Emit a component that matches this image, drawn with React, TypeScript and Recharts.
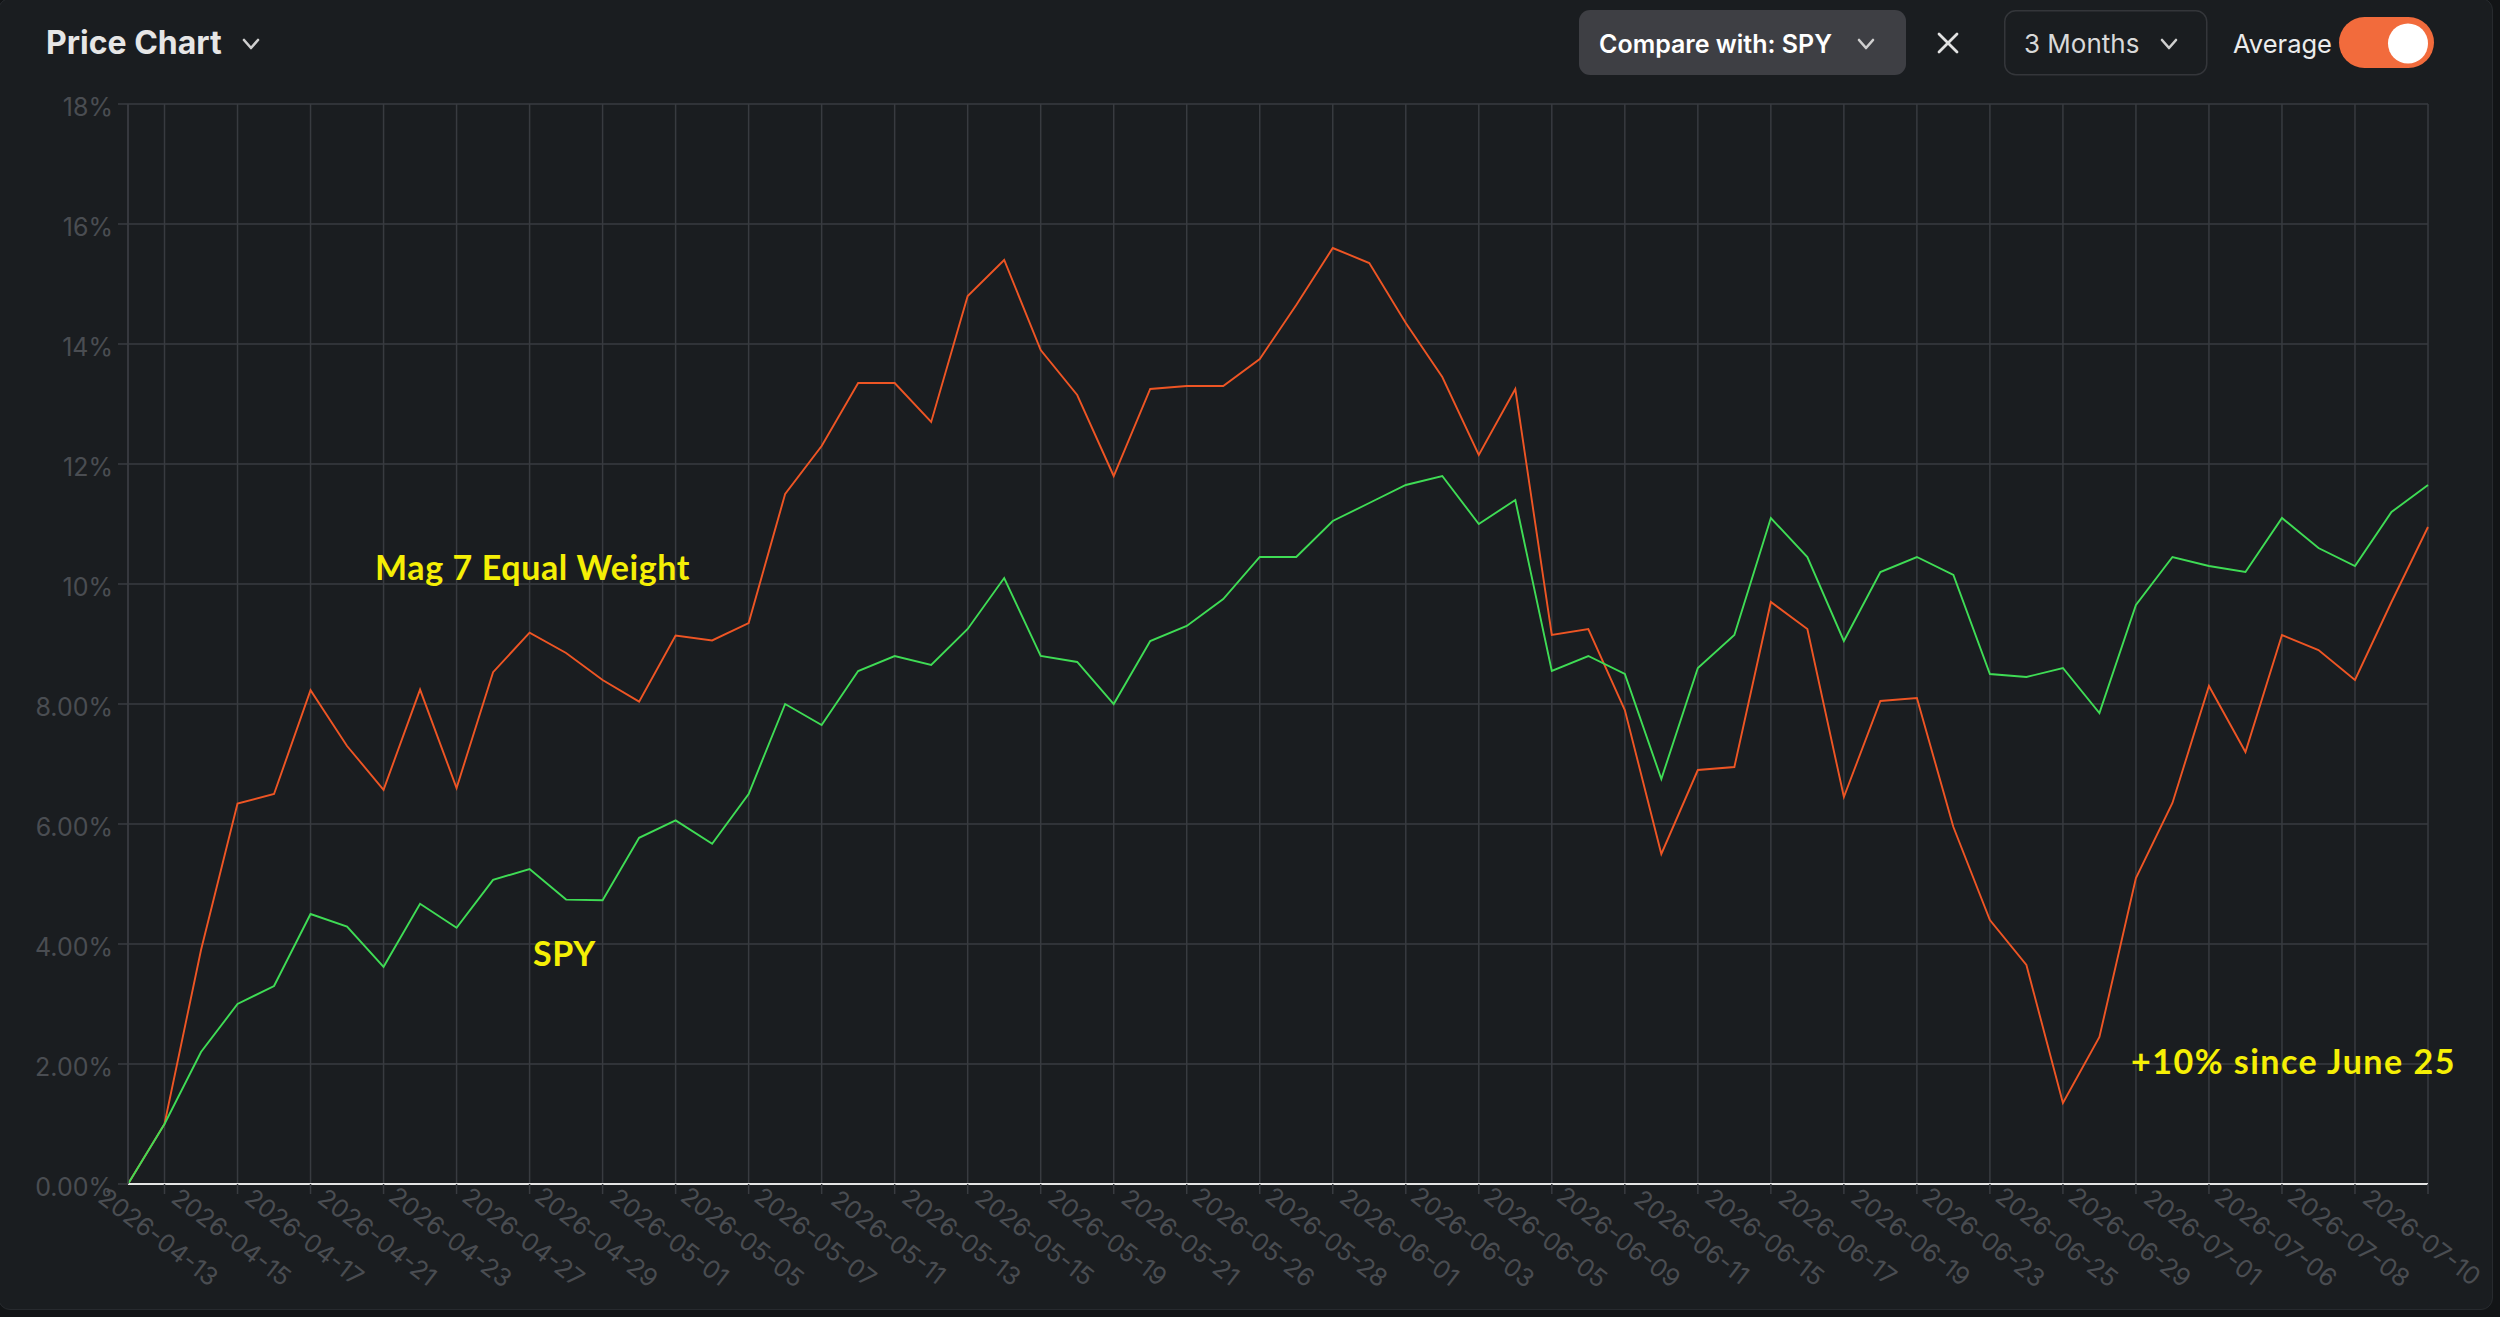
import { LineChart, Line, XAxis, YAxis, CartesianGrid } from 'recharts';

const dates = [
  '2026-04-10', '2026-04-13', '2026-04-14', '2026-04-15', '2026-04-16', '2026-04-17', '2026-04-20', '2026-04-21',
  '2026-04-22', '2026-04-23', '2026-04-24', '2026-04-27', '2026-04-28', '2026-04-29', '2026-04-30', '2026-05-01',
  '2026-05-04', '2026-05-05', '2026-05-06', '2026-05-07', '2026-05-08', '2026-05-11', '2026-05-12', '2026-05-13',
  '2026-05-14', '2026-05-15', '2026-05-18', '2026-05-19', '2026-05-20', '2026-05-21', '2026-05-22', '2026-05-26',
  '2026-05-27', '2026-05-28', '2026-05-29', '2026-06-01', '2026-06-02', '2026-06-03', '2026-06-04', '2026-06-05',
  '2026-06-08', '2026-06-09', '2026-06-10', '2026-06-11', '2026-06-12', '2026-06-15', '2026-06-16', '2026-06-17',
  '2026-06-18', '2026-06-19', '2026-06-22', '2026-06-23', '2026-06-24', '2026-06-25', '2026-06-26', '2026-06-29',
  '2026-06-30', '2026-07-01', '2026-07-02', '2026-07-06', '2026-07-07', '2026-07-08', '2026-07-09', '2026-07-10',
];

// Mag 7 equal weight, % change since start
const mag7 = [
  0, 1.0, 3.9, 6.34, 6.5, 8.23, 7.3, 6.57, 8.24, 6.6, 8.53, 9.19, 8.85, 8.4, 8.04, 9.14,
  9.06, 9.35, 11.5, 12.3, 13.35, 13.35, 12.7, 14.8, 15.4, 13.9, 13.15, 11.8, 13.25, 13.3, 13.3, 13.75,
  14.65, 15.6, 15.35, 14.35, 13.45, 12.15, 13.25, 9.15, 9.25, 7.9, 5.5, 6.9, 6.95, 9.7, 9.25, 6.45,
  8.05, 8.1, 5.95, 4.4, 3.65, 1.35, 2.45, 5.1, 6.35, 8.3, 7.2, 9.15, 8.9, 8.4, 9.7, 10.95,
];

// SPY, % change since start
const spy = [
  0, 1.0, 2.2, 3.0, 3.3, 4.5, 4.29, 3.62, 4.67, 4.27, 5.07, 5.25, 4.74, 4.73, 5.77, 6.06,
  5.67, 6.5, 8.0, 7.65, 8.55, 8.8, 8.65, 9.25, 10.1, 8.8, 8.7, 8.0, 9.05, 9.3, 9.75, 10.45,
  10.45, 11.05, 11.35, 11.65, 11.8, 11.0, 11.4, 8.55, 8.8, 8.5, 6.75, 8.6, 9.15, 11.1, 10.45, 9.05,
  10.2, 10.45, 10.15, 8.5, 8.45, 8.6, 7.85, 9.65, 10.45, 10.3, 10.2, 11.1, 10.6, 10.3, 11.2, 11.65,
];

const xTicks = [
  '2026-04-13', '2026-04-15', '2026-04-17', '2026-04-21', '2026-04-23', '2026-04-27', '2026-04-29', '2026-05-01',
  '2026-05-05', '2026-05-07', '2026-05-11', '2026-05-13', '2026-05-15', '2026-05-19', '2026-05-21', '2026-05-26',
  '2026-05-28', '2026-06-01', '2026-06-03', '2026-06-05', '2026-06-09', '2026-06-11', '2026-06-15', '2026-06-17',
  '2026-06-19', '2026-06-23', '2026-06-25', '2026-06-29', '2026-07-01', '2026-07-06', '2026-07-08', '2026-07-10',
];

const yTicks = [0, 2, 4, 6, 8, 10, 12, 14, 16, 18];
const yTickLabels = ['0.00%', '2.00%', '4.00%', '6.00%', '8.00%', '10%', '12%', '14%', '16%', '18%'];

const rows = dates.map((date, i) => ({ date, mag7: mag7[i], spy: spy[i] }));

const GRID = '#383b40';
const TICK_TEXT = '#4a4d52';
const YELLOW = '#f5ef05';
const FONT = 'Inter, "Noto Sans", sans-serif';

document.body.style.margin = '0';
document.body.style.background = '#121416';

function DateTick(props: any) {
  const { x, y, payload } = props;
  const cx = x - 6;
  const cy = y + 41;
  return (
    <text
      x={cx}
      y={cy}
      textAnchor="middle"
      dominantBaseline="central"
      transform={`rotate(37.5 ${cx} ${cy})`}
      fill={TICK_TEXT}
      fontSize={25}
      fontFamily={FONT}
    >
      {payload.value}
    </text>
  );
}

function PctTick(props: any) {
  const { x, y, payload } = props;
  const label = yTickLabels[yTicks.indexOf(payload.value)];
  return (
    <text x={x} y={y} dy={12} textAnchor="end" fill={TICK_TEXT} fontSize={25} fontFamily={FONT}>
      {label}
    </text>
  );
}

function Chevron({ x, y }: { x: number; y: number }) {
  return <polyline points={`${x},${y} ${x + 7},${y + 8} ${x + 14},${y}`} fill="none" stroke="#cfcfcf" strokeWidth={2.6} strokeLinecap="round" strokeLinejoin="round" />;
}

export default function App() {
  return (
    <div style={{ position: 'relative', width: 2500, height: 1317, background: '#121416', overflow: 'hidden' }}>
      <div
        style={{
          position: 'absolute',
          left: -2,
          top: -2,
          width: 2495,
          height: 1312,
          background: '#1a1d20',
          border: '1.5px solid #272a2e',
          borderRadius: 12,
          boxSizing: 'border-box',
        }}
      />
      <div style={{ position: 'absolute', left: 0, top: 0 }}>
        <LineChart width={2500} height={1317} data={rows} margin={{ top: 104, right: 72, bottom: 0, left: 0 }}>
          <CartesianGrid stroke={GRID} strokeWidth={1.5} />
          <XAxis
            dataKey="date"
            ticks={xTicks}
            interval={0}
            height={133}
            tickSize={10}
            tickLine={{ stroke: GRID, strokeWidth: 1.5 }}
            axisLine={{ stroke: '#e4e4e4', strokeWidth: 2 }}
            tick={<DateTick />}
          />
          <YAxis
            domain={[0, 18]}
            ticks={yTicks}
            interval={0}
            width={128}
            tickSize={10}
            tickMargin={5}
            tickLine={{ stroke: GRID, strokeWidth: 1.5 }}
            axisLine={{ stroke: GRID, strokeWidth: 1.5 }}
            tick={<PctTick />}
          />
          <Line type="linear" dataKey="mag7" stroke="#ee5524" strokeWidth={1.9} dot={false} isAnimationActive={false} />
          <Line type="linear" dataKey="spy" stroke="#3fdc55" strokeWidth={1.9} dot={false} isAnimationActive={false} />
        </LineChart>
      </div>
      <svg width={2500} height={1317} style={{ position: 'absolute', left: 0, top: 0, pointerEvents: 'none' }}>
        <text x={46} y={54} fontFamily={FONT} fontWeight={700} fontSize={32} fill="#e6e6e6">Price Chart</text>
        <Chevron x={244} y={40} />

        <rect x={1579} y={10} width={327} height={65} rx={11} fill="#3e3f44" />
        <text x={1599} y={53} fontFamily={FONT} fontWeight={600} fontSize={25} fill="#ffffff">Compare with: SPY</text>
        <Chevron x={1859} y={40} />

        <line x1={1939} y1={34} x2={1957} y2={52} stroke="#e2e2e2" strokeWidth={2.8} strokeLinecap="round" />
        <line x1={1957} y1={34} x2={1939} y2={52} stroke="#e2e2e2" strokeWidth={2.8} strokeLinecap="round" />

        <rect x={2004.75} y={10.75} width={202} height={64} rx={11} fill="none" stroke="#34363a" strokeWidth={1.5} />
        <text x={2024} y={53} fontFamily={FONT} fontWeight={400} fontSize={26} fill="#d9d9d9">3 Months</text>
        <Chevron x={2162} y={40} />

        <text x={2233} y={53} fontFamily={FONT} fontWeight={400} fontSize={25.5} fill="#ececec">Average</text>
        <rect x={2339} y={17} width={95} height={51} rx={25.5} fill="#f26b3c" />
        <circle cx={2408} cy={43.5} r={20} fill="#ffffff" />

        <text x={375} y={580} fontFamily="Lato, sans-serif" fontWeight={700} fontSize={34} letterSpacing={0.6} fill={YELLOW}>Mag 7 Equal Weight</text>
        <text x={533} y={966} fontFamily="Lato, sans-serif" fontWeight={700} fontSize={34} letterSpacing={0.6} fill={YELLOW}>SPY</text>
        <text x={2131} y={1074} fontFamily="Lato, sans-serif" fontWeight={700} fontSize={34} letterSpacing={1.5} fill={YELLOW}>+10% since June 25</text>
      </svg>
    </div>
  );
}
